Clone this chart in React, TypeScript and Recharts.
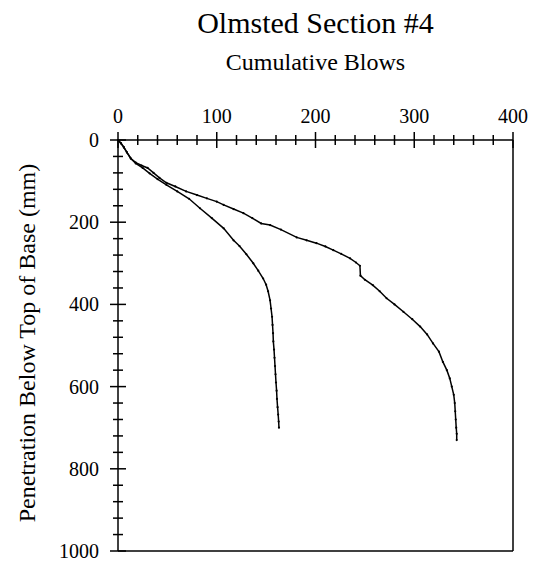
import { ScatterChart, Scatter, XAxis, YAxis, ReferenceLine } from 'recharts';

// Cumulative blows vs. penetration depth
const blowsA = [0, 3, 6, 9, 13, 18, 25, 32, 40, 49, 60, 72, 83, 95, 107, 117, 123, 130, 137, 142, 147, 150, 152, 154, 155, 156, 156.5, 157, 157.3, 158, 158.5, 159, 159.5, 160, 160.6, 161, 161.6, 162.2, 162.7, 163];
const depthA = [0, 8, 18, 30, 45, 57, 68, 81, 95, 109, 125, 143, 166, 190, 215, 244, 258, 278, 300, 318, 337, 352, 368, 390, 410, 430, 450, 470, 490, 510, 530, 550, 570, 590, 610, 630, 650, 668, 685, 700];

const blowsB = [0, 3, 6, 9, 13, 18, 24, 30, 36, 42, 49, 58, 69, 80, 90, 100, 107, 117, 127, 136, 145, 154, 165, 181, 191, 201, 210, 218, 226, 235, 241, 245, 245.5, 250, 258, 265, 272, 280, 289, 298, 306, 313, 319, 325, 329, 333, 336, 338, 340, 341, 341.5, 342, 342.5, 343, 343];
const depthB = [0, 8, 18, 30, 45, 55, 62, 68, 80, 92, 104, 113, 125, 134, 142, 150, 158, 168, 178, 190, 203, 207, 218, 237, 244, 251, 259, 268, 277, 288, 298, 306, 330, 340, 353, 368, 385, 400, 418, 436, 454, 473, 495, 515, 540, 560, 580, 600, 620, 640, 660, 680, 700, 715, 730];

const xTicks = [0, 20, 40, 60, 80, 100, 120, 140, 160, 180, 200, 220, 240, 260, 280, 300, 320, 340, 360, 380, 400];
const yTicks = [0, 40, 80, 120, 160, 200, 240, 280, 320, 360, 400, 440, 480, 520, 560, 600, 640, 680, 720, 760, 800, 840, 880, 920, 960, 1000];

const seriesA = blowsA.map((x, i) => ({ x, y: depthA[i] }));
const seriesB = blowsB.map((x, i) => ({ x, y: depthB[i] }));

const FONT = '"Liberation Serif", "Times New Roman", serif';
const MARGIN = { top: 100, right: 21, bottom: 13, left: 48 };
const X_AXIS_H = 40;
const Y_AXIS_W = 70;
const PLOT_TOP = MARGIN.top + X_AXIS_H;
const PLOT_LEFT = MARGIN.left + Y_AXIS_W;

function XTick(props: any) {
  const { x, payload } = props;
  const major = payload.value % 100 === 0;
  const len = major ? 8 : 5;
  return (
    <g>
      <line x1={x} x2={x} y1={PLOT_TOP - len} y2={PLOT_TOP + len} stroke="#000" strokeWidth={1.5} />
      {major && (
        <text x={x} y={PLOT_TOP - 17} textAnchor="middle" fontFamily={FONT} fontSize={20} fill="#000">
          {payload.value}
        </text>
      )}
    </g>
  );
}

function YTick(props: any) {
  const { y, payload } = props;
  const major = payload.value % 200 === 0;
  const len = major ? 8 : 5;
  return (
    <g>
      <line x1={PLOT_LEFT - len} x2={PLOT_LEFT + len} y1={y} y2={y} stroke="#000" strokeWidth={1.5} />
      {major && (
        <text x={PLOT_LEFT - 19} y={y + 7} textAnchor="end" fontFamily={FONT} fontSize={20} fill="#000">
          {payload.value}
        </text>
      )}
    </g>
  );
}

const Dot = (props: any) => <circle cx={props.cx} cy={props.cy} r={1.1} fill="#000" />;

export default function App() {
  return (
    <div style={{ position: 'relative', width: 534, height: 564, fontFamily: FONT, color: '#000' }}>
      <style>{'body{margin:0;background:#fff}'}</style>
      <div style={{ position: 'absolute', left: 118, width: 395, top: 8, fontSize: 30, lineHeight: '30px', textAlign: 'center', whiteSpace: 'nowrap' }}>
        Olmsted Section #4
      </div>
      <div style={{ position: 'absolute', left: 118, width: 395, top: 50, fontSize: 24, lineHeight: '24px', textAlign: 'center', whiteSpace: 'nowrap' }}>
        Cumulative Blows
      </div>
      <div
        style={{
          position: 'absolute',
          left: 27,
          top: 343,
          fontSize: 24,
          whiteSpace: 'nowrap',
          transform: 'translate(-50%, -50%) rotate(-90deg)',
        }}
      >
        Penetration Below Top of Base (mm)
      </div>
      <ScatterChart width={534} height={564} margin={MARGIN}>
        <XAxis
          type="number"
          dataKey="x"
          orientation="top"
          domain={[0, 400]}
          ticks={xTicks}
          interval={0}
          height={X_AXIS_H}
          tickLine={false}
          axisLine={{ stroke: '#000', strokeWidth: 1.5 }}
          tick={<XTick />}
        />
        <YAxis
          type="number"
          dataKey="y"
          domain={[0, 1000]}
          reversed
          ticks={yTicks}
          interval={0}
          width={Y_AXIS_W}
          tickLine={false}
          axisLine={{ stroke: '#000', strokeWidth: 1.5 }}
          tick={<YTick />}
        />
        <ReferenceLine x={400} stroke="#000" strokeWidth={1.5} />
        <ReferenceLine y={1000} stroke="#000" strokeWidth={1.5} />
        <Scatter data={seriesA} line={{ stroke: '#000', strokeWidth: 1.5 }} shape={<Dot />} isAnimationActive={false} />
        <Scatter data={seriesB} line={{ stroke: '#000', strokeWidth: 1.5 }} shape={<Dot />} isAnimationActive={false} />
      </ScatterChart>
    </div>
  );
}
